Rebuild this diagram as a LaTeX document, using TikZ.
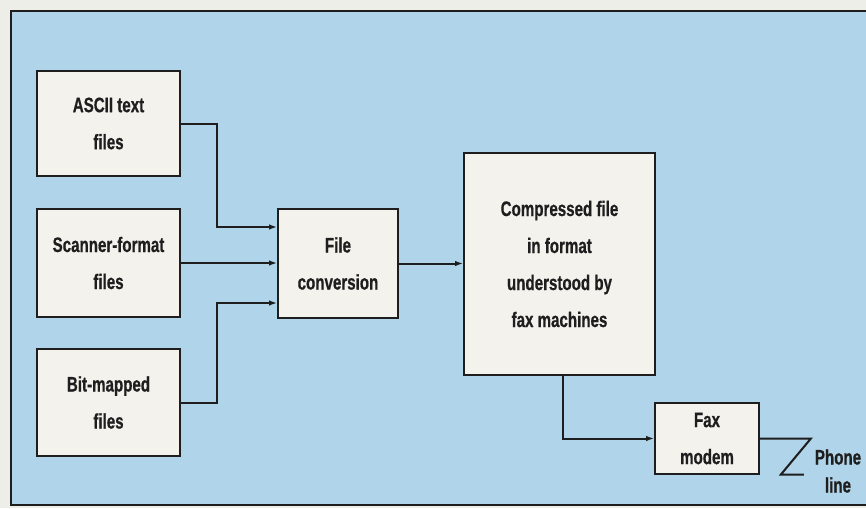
\documentclass[tikz,border=0pt]{standalone}
\usepackage{fontspec}
\usepackage{tikz}
\usetikzlibrary{arrows.meta,calc}
\newfontfamily\condfont{Liberation Sans}[FakeStretch=0.72, BoldFeatures={FakeBold=0.6}]
\definecolor{paperwhite}{RGB}{238,238,232}
\definecolor{skyblue}{RGB}{176,212,233}
\definecolor{boxwhite}{RGB}{244,242,236}
\definecolor{inkdark}{RGB}{30,30,30}
\tikzset{
  filebox/.style={draw=inkdark, line width=1.8pt, fill=boxwhite, align=center,
    font=\condfont\bfseries\fontsize{21}{37}\selectfont, text=inkdark, inner sep=0pt},
  flowline/.style={draw=inkdark, line width=2pt},
}

\begin{document}
\begin{tikzpicture}[x=1pt, y=-1pt, >={Latex[length=8pt,width=5.5pt]}]
  % 1. Page and blue panel
  \useasboundingbox (0,0) rectangle (866,508);
  \fill[paperwhite] (0,0) rectangle (866,508);
  \fill[skyblue] (11,11) rectangle (866,505);
  \draw[flowline] (866,11) -- (11,11) -- (11,505) -- (866,505);

  % 2. Source files (left column)
  \node[filebox, minimum width=143pt, minimum height=105pt] (ascii) at (108.5,123.5) {ASCII text\\files};
  \node[filebox, minimum width=143pt, minimum height=108pt] (scanner) at (108.5,263) {Scanner-format\\files};
  \node[filebox, minimum width=143pt, minimum height=107pt] (bitmap) at (108.5,402.5) {Bit-mapped\\files};

  % 3. Conversion, compressed file, fax modem
  \node[filebox, minimum width=120pt, minimum height=109pt] (convert) at (338,263.5) {File\\conversion};
  \node[filebox, minimum width=191pt, minimum height=222pt] (compressed) at (559.5,264)
        {Compressed file\\in format\\understood by\\fax machines};
  \node[filebox, minimum width=104pt, minimum height=71pt] (faxmodem) at (707,438.5) {Fax\\modem};

  % 4. Connectors
  \draw[flowline, ->] (ascii.east) -- ++(36,0) |- ([yshift=36.5pt]convert.west);
  \draw[flowline, ->] (scanner.east) -- (scanner.east -| convert.west);
  \draw[flowline, ->] (bitmap.east) -- ++(36,0) |- ([yshift=-39.5pt]convert.west);
  \draw[flowline, ->] (convert.east) -- (convert.east -| compressed.west);
  \draw[flowline, ->] ([xshift=3.5pt]compressed.south) |- (faxmodem.west);

  % 5. Phone line
  \draw[flowline] (faxmodem.east) -- ++(51,0) -- ++(-30,36) -- ++(23,0);
  \node[font=\condfont\bfseries\fontsize{21}{28}\selectfont, text=inkdark, align=center,
        inner sep=0pt] (phone) at (838,471) {Phone\\line};
\end{tikzpicture}
\end{document}
